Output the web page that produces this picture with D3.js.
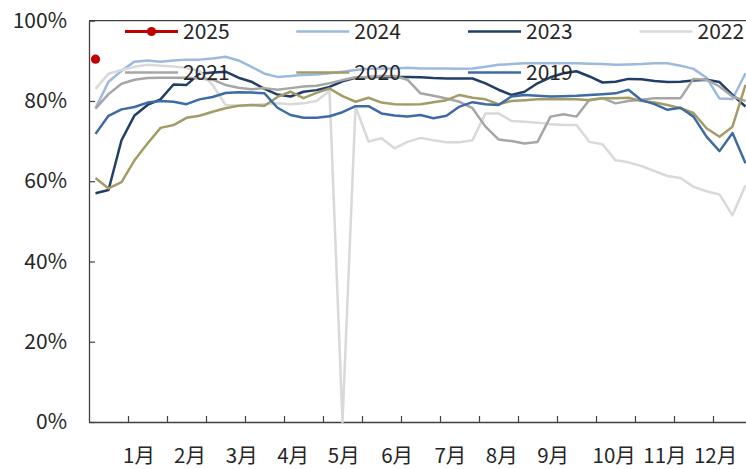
<!DOCTYPE html>
<html><head><meta charset="utf-8">
<script src="https://cdn.jsdelivr.net/npm/d3@7"></script>
<style>
html,body{margin:0;padding:0;background:#fff;}
svg{display:block;}
text{font-family:"Microsoft YaHei","Noto Sans CJK SC","Noto Sans",sans-serif;fill:#262626;}
</style></head>
<body><svg id="c" width="746" height="469"></svg>
<script>
// ---- data (weekly utilisation rate, %) ----
const years = ["2025","2024","2023","2022","2021","2020","2019"];
const colors = ["#C00000","#9DB9E0","#203E66","#D9D9D9","#A6A6A6","#A39C66","#3F6BA5"];
const s2025 = [90.4];
const s2024 = [78.2,84.8,87.5,89.8,90.1,89.8,90.1,90.3,90.3,90.6,91.0,90.1,88.5,86.8,86.0,86.2,86.5,86.6,86.9,87.3,87.7,88.0,88.1,88.1,88.3,88.1,88.1,88.1,88.0,88.1,88.5,89.0,89.2,89.4,89.4,89.4,89.4,89.4,89.3,89.2,89.0,89.1,89.2,89.4,89.4,88.8,88.0,85.8,80.6,80.5,86.9];
const s2023 = [57.0,57.8,70.2,76.4,79.0,80.4,84.1,84.0,86.8,87.1,87.3,85.8,84.8,83.0,81.6,81.1,82.3,82.7,83.5,84.9,85.8,86.0,86.0,86.0,86.0,85.9,85.7,85.6,85.6,85.6,84.4,82.8,81.5,82.3,84.4,85.9,86.9,87.4,86.1,84.6,84.8,85.5,85.4,85.0,84.7,84.8,85.1,85.3,84.7,81.5,78.6];
const s2022 = [83.0,86.8,87.7,88.5,89.0,88.8,88.6,88.2,87.5,84.0,79.0,78.8,79.0,79.2,79.4,79.2,79.4,80.0,82.5,0.0,78.6,69.9,70.7,68.2,69.8,70.8,70.2,69.7,69.7,70.2,76.9,76.9,75.0,74.8,74.6,74.2,74.0,74.0,69.8,69.2,65.2,64.7,63.8,62.5,61.3,60.8,58.6,57.5,56.7,51.5,59.0];
const s2021 = [78.1,81.7,84.3,85.3,85.7,85.8,85.8,85.8,85.6,85.3,84.0,83.3,82.9,83.2,82.8,83.2,83.6,83.8,84.4,85.2,85.9,86.0,86.2,86.2,85.3,81.9,81.3,80.6,79.8,78.2,73.6,70.4,70.0,69.4,69.8,76.1,76.7,76.1,80.3,80.7,79.4,80.0,80.3,80.7,80.7,80.7,85.5,85.3,83.6,81.1,80.0];
const s2020 = [60.8,58.2,59.8,65.2,69.4,73.3,74.0,75.8,76.3,77.3,78.2,78.8,79.0,78.8,81.0,82.3,80.7,82.0,83.1,81.2,79.8,80.8,79.6,79.2,79.1,79.2,79.7,80.2,81.5,80.8,80.4,79.2,80.0,80.2,80.4,80.5,80.4,80.4,80.2,80.7,80.7,80.8,80.0,79.6,79.0,78.2,77.0,73.2,71.1,73.6,84.0];
const s2019 = [71.8,76.3,77.9,78.5,79.6,80.0,79.8,79.2,80.4,81.0,82.0,82.2,82.1,81.9,78.3,76.5,75.8,75.8,76.2,77.2,78.7,78.7,76.9,76.4,76.1,76.5,75.7,76.3,78.6,79.7,79.2,79.0,81.1,81.5,81.3,81.1,81.2,81.3,81.5,81.7,81.9,82.8,80.2,79.2,77.8,78.3,76.1,71.1,67.5,72.0,64.5];
const series = [s2025,s2024,s2023,s2022,s2021,s2020,s2019];
const monthLabels = ["1月","2月","3月","4月","5月","6月","7月","8月","9月","10月","11月","12月"];
const monthWeek = [3.35,7.27,11.25,15.2,19.1,23.2,27.3,31.25,35.2,39.9,43.8,47.7];
const yTicks = [0,20,40,60,80,100];
const nWeeks = 52;

// ---- layout ----
const svg = d3.select("#c");
const plotLeft = 89, plotTop = 20.7, plotBottom = 422, cw = 13;
const x = d3.scaleLinear().domain([-0.5, nWeeks - 0.5]).range([plotLeft, plotLeft + nWeeks * cw]);
const y = d3.scaleLinear().domain([0, 100]).range([plotBottom, plotTop]);
const axisCol = "#404040";

// plot frame (top border)
svg.append("line").attr("x1", plotLeft).attr("x2", 746).attr("y1", plotTop).attr("y2", plotTop)
  .attr("stroke", axisCol).attr("stroke-width", 1.3);

// y axis
const yAxis = d3.axisLeft(y).tickValues(yTicks).tickFormat(d => d + "%").tickSizeInner(-6).tickSizeOuter(0).tickPadding(22);
const gy = svg.append("g").attr("transform", `translate(${plotLeft},0)`).call(yAxis);
gy.attr("font-family", null).attr("font-size", null);
gy.select(".domain").attr("stroke", axisCol).attr("stroke-width", 1.3);
gy.selectAll(".tick line").attr("stroke", axisCol).attr("stroke-width", 1.2);
gy.selectAll("text").style("font-size", "21px").attr("fill", "#262626");

// x axis: tick marks every 3 weeks, month labels
const tickWeeks = d3.range(2.5, nWeeks, 3);
const gx = svg.append("g").attr("transform", `translate(0,${plotBottom})`)
  .call(d3.axisBottom(x).tickValues(tickWeeks).tickSizeInner(-6).tickSizeOuter(0).tickFormat(""));
gx.select(".domain").attr("stroke", axisCol).attr("stroke-width", 1.3);
gx.selectAll(".tick line").attr("stroke", axisCol).attr("stroke-width", 1.2);
svg.append("g").selectAll("text").data(monthLabels).join("text")
  .attr("x", (d, i) => x(monthWeek[i])).attr("y", 463)
  .attr("text-anchor", "middle").style("font-size", "20.5px").text(d => d);

// lines (later series on top)
const line = d3.line().x((d, i) => x(i)).y(d => y(d));
series.forEach((s, k) => {
  if (s.length > 1) {
    svg.append("path").datum(s).attr("d", line).attr("fill", "none")
      .attr("stroke", colors[k]).attr("stroke-width", 2.5).attr("stroke-linejoin", "round");
  } else {
    svg.append("g").selectAll("circle").data(s).join("circle").attr("cx", (d, i) => x(i)).attr("cy", d => y(d))
      .attr("r", 4.6).attr("fill", colors[k]);
  }
});

// legend
const legX = [125, 296.3, 468, 639.5], legY = [31.5, 72.5];
years.forEach((yr, k) => {
  const col = k < 4 ? k : k - 4, row = k < 4 ? 0 : 1;
  const lx = legX[col], ly = legY[row];
  const g = svg.append("g");
  g.append("line").attr("x1", lx).attr("x2", lx + 53).attr("y1", ly).attr("y2", ly)
    .attr("stroke", colors[k]).attr("stroke-width", k === 0 ? 3 : 2.5);
  if (k === 0) g.append("circle").attr("cx", lx + 26.5).attr("cy", ly).attr("r", 4.6).attr("fill", colors[k]);
  g.append("text").attr("x", lx + 58).attr("y", ly).attr("dy", "0.36em")
    .style("font-size", "21px").text(yr);
});
</script></body></html>
